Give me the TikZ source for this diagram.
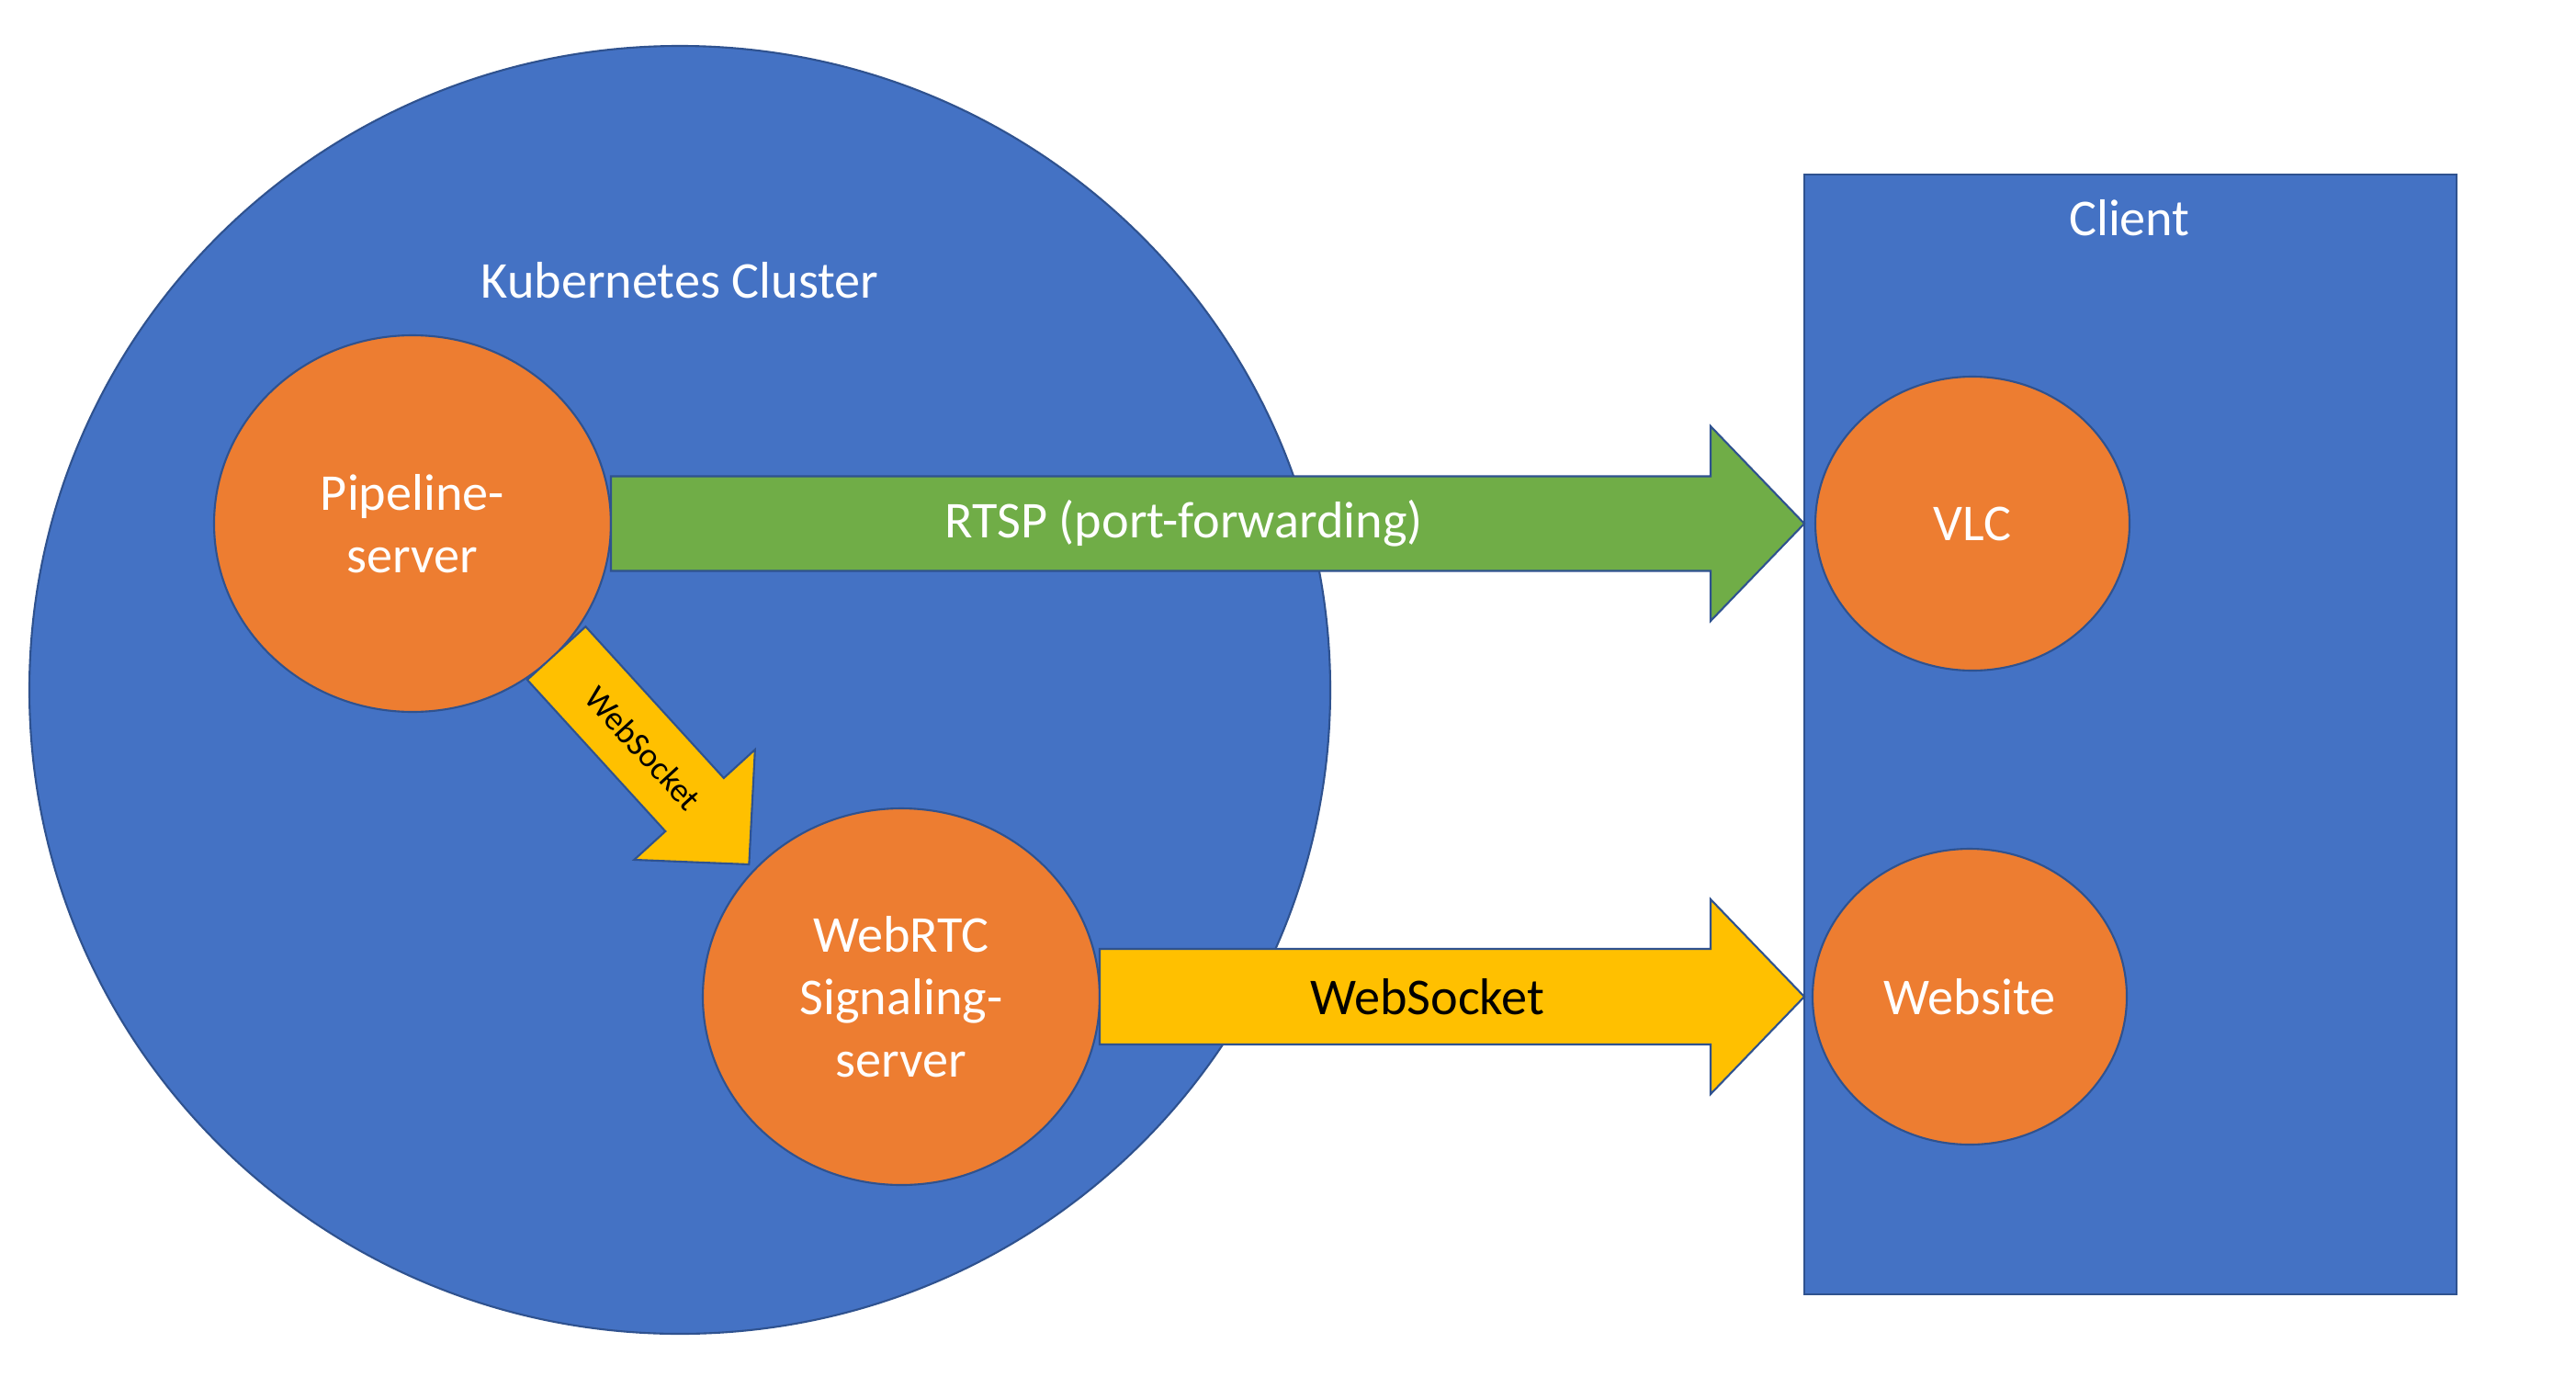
\documentclass[tikz,border=0pt]{standalone}
\usepackage{fontspec}
\setmainfont{Carlito}
\usetikzlibrary{shapes.geometric,calc}

\definecolor{officeblue}{HTML}{4472C4}
\definecolor{officeorange}{HTML}{ED7D31}
\definecolor{officegreen}{HTML}{70AD47}
\definecolor{officegold}{HTML}{FFC000}
\definecolor{edgeblue}{HTML}{2F528F}

% block arrow: fill, tail, tip, shaft half width, head half width, head length
\newcommand{\blockarrow}[6]{%
  \coordinate (ba-base) at ($(#3)!#6!(#2)$);
  \draw[edgeline, fill=#1] ($(#2)!#4!90:(#3)$) -- ($(ba-base)!#4!-90:(#2)$) -- ($(ba-base)!#5!-90:(#2)$)
    -- (#3) -- ($(ba-base)!#5!90:(#2)$) -- ($(ba-base)!#4!90:(#2)$) -- ($(#2)!#4!-90:(#3)$) -- cycle;
}

\tikzset{
  edgeline/.style={draw=edgeblue, line width=0.6pt},
  bigtext/.style={font=\fontsize{16}{19.4}\selectfont},
  service/.style={edgeline, ellipse, fill=officeorange, text=white, align=center, inner sep=0pt, outer sep=0pt, bigtext},
}

\begin{document}
\begin{tikzpicture}
\useasboundingbox (0,0) rectangle (28.04,-15.10);

% containers
\node[edgeline, ellipse, fill=officeblue, minimum width=14.16cm, minimum height=14.02cm, inner sep=0pt] (cluster) at (7.40,-7.51) {};
\node[text=white, bigtext] (clusterlabel) at (7.40,-3.05) {Kubernetes Cluster};
\node[edgeline, rectangle, fill=officeblue, minimum width=7.10cm, minimum height=12.19cm, inner sep=0pt, outer sep=0pt] (client) at (23.19,-7.995) {};
\node[text=white, bigtext] (clientlabel) at (23.18,-2.37) {Client};

% services
\node[service, minimum width=4.32cm, minimum height=4.10cm] (pipeline) at (4.49,-5.70) {Pipeline-\\server};
\node[service, minimum width=4.32cm, minimum height=4.10cm] (webrtc) at (9.81,-10.85) {WebRTC\\Signaling-\\server};
\node[service, minimum width=3.42cm, minimum height=3.20cm] (vlc) at (21.47,-5.70) {VLC};
\node[service, minimum width=3.42cm, minimum height=3.22cm] (website) at (21.44,-10.85) {Website};

% arrows
\coordinate (rtspTip) at (vlc.west -| client.west);
\blockarrow{officegreen}{pipeline.east}{rtspTip}{0.515cm}{1.06cm}{1.02cm}
\node[text=white, bigtext] (rtsplabel) at ($(pipeline.east)!0.48!(rtspTip)$) {RTSP (port-forwarding)};

\coordinate (wsTip) at (website.west -| client.west);
\blockarrow{officegold}{webrtc.east}{wsTip}{0.52cm}{1.06cm}{1.02cm}
\node[bigtext] (wslabel) at ($(webrtc.east)!0.465!(wsTip)$) {WebSocket};

\coordinate (sigTail) at (pipeline.-42);
\coordinate (sigTip) at ($(webrtc.center)!1.04!(webrtc.139)$);
\blockarrow{officegold}{sigTail}{sigTip}{0.43cm}{0.89cm}{0.88cm}
\node[font=\fontsize{10.5}{12}\selectfont, rotate=-47.5] (siglabel) at ($(sigTail)!0.45!(sigTip)$) {WebSocket};
\end{tikzpicture}
\end{document}
